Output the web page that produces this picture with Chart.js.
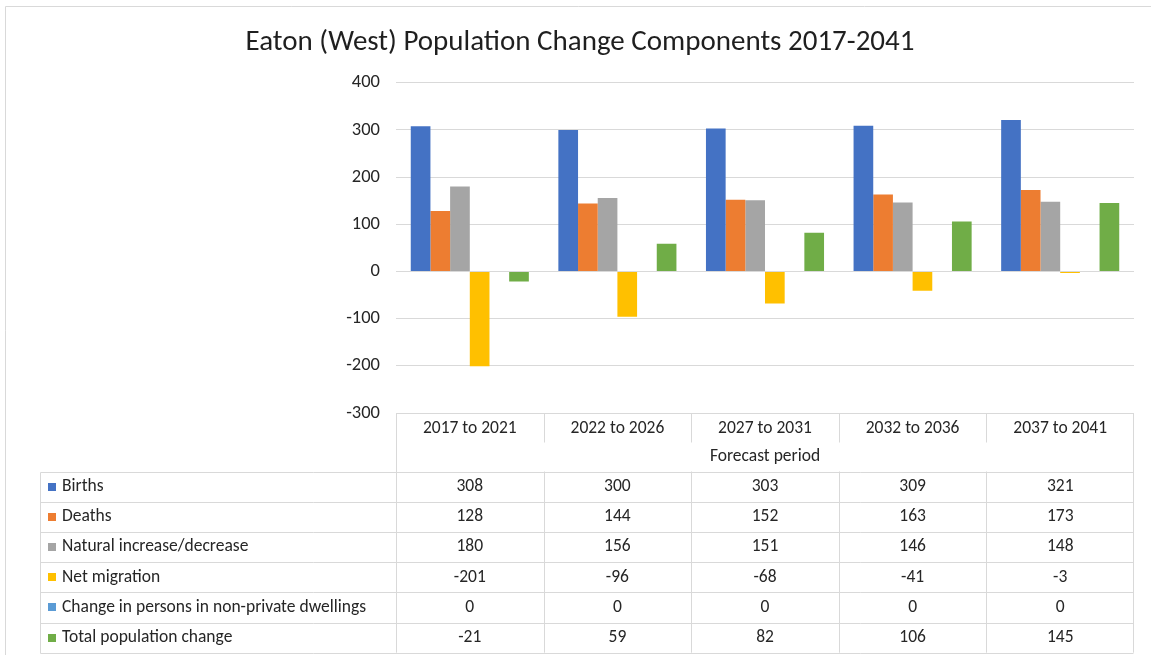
<!DOCTYPE html>
<html>
<head>
<meta charset="utf-8">
<title>Eaton (West) Population Change Components 2017-2041</title>
<script src="https://cdn.jsdelivr.net/npm/chart.js@4.4.1/dist/chart.umd.min.js"></script>
<style>
  html, body { margin: 0; padding: 0; background: #ffffff; }
  #wrap { position: relative; width: 1151px; height: 655px; }
</style>
</head>
<body>
<div id="wrap"><canvas id="chart" width="1151" height="655"></canvas></div>
<script>
// Forecast periods (categories)
const periods = ['2017 to 2021', '2022 to 2026', '2027 to 2031', '2032 to 2036', '2037 to 2041'];

// Components of population change per period
const births        = [308, 300, 303, 309, 321];
const deaths        = [128, 144, 152, 163, 173];
const naturalChange = [180, 156, 151, 146, 148];
const netMigration  = [-201, -96, -68, -41, -3];
const nonPrivate    = [0, 0, 0, 0, 0];
const totalChange   = [-21, 59, 82, 106, 145];

const seriesNames = ['Births', 'Deaths', 'Natural increase/decrease', 'Net migration',
                     'Change in persons in non-private dwellings', 'Total population change'];
const seriesValues = [births, deaths, naturalChange, netMigration, nonPrivate, totalChange];
const seriesColors = ['#4472C4', '#ED7D31', '#A5A5A5', '#FFC000', '#5B9BD5', '#70AD47'];

// Value axis ticks
const yMin = -300, yMax = 400, yStep = 100;

const FONT = 'Carlito, Calibri, Lato, "Open Sans", sans-serif';
const GRID = '#d9d9d9';
const TEXT = '#262626';

// Draws the frame line and the data table under the plot (header, axis title, legend rows)
const dataTablePlugin = {
  id: 'dataTable',
  beforeDraw(chart) {
    const ctx = chart.ctx;
    ctx.save();
    ctx.strokeStyle = GRID;
    ctx.lineWidth = 1;
    ctx.beginPath();
    ctx.moveTo(5.5, 655); ctx.lineTo(5.5, 6.5); ctx.lineTo(1151, 6.5);
    ctx.stroke();
    ctx.restore();
  },
  afterDraw(chart) {
    const ctx = chart.ctx;
    const area = chart.chartArea;
    const xs = chart.scales.x;
    const n = periods.length;
    const colW = (area.right - area.left) / n;
    const top = Math.round(area.bottom) + 0.5;
    const headerBottom = top + 29;
    const rowsTop = top + 58;
    const rowH = 30.2;
    const tableLeft = 40.5;
    const right = Math.round(area.right) - 0.5;
    const left = Math.round(area.left) + 0.5;
    const bottom = rowsTop + rowH * seriesNames.length;

    ctx.save();
    ctx.strokeStyle = GRID;
    ctx.lineWidth = 1;
    ctx.beginPath();
    // header box
    ctx.moveTo(left, top); ctx.lineTo(right, top);
    ctx.moveTo(left, top); ctx.lineTo(left, bottom);
    ctx.moveTo(right, top); ctx.lineTo(right, bottom);
    for (let i = 1; i < n; i++) {
      const bx = Math.round(area.left + colW * i) + 0.5;
      ctx.moveTo(bx, top); ctx.lineTo(bx, headerBottom);
      ctx.moveTo(bx, rowsTop); ctx.lineTo(bx, bottom);
    }
    // legend rows
    for (let r = 0; r <= seriesNames.length; r++) {
      const ry = Math.round(rowsTop + rowH * r) + 0.5;
      ctx.moveTo(tableLeft, ry); ctx.lineTo(right, ry);
    }
    ctx.moveTo(tableLeft, Math.round(rowsTop) + 0.5); ctx.lineTo(tableLeft, Math.round(bottom) + 0.5);
    ctx.stroke();

    ctx.fillStyle = TEXT;
    ctx.font = '17.5px ' + FONT;
    ctx.textAlign = 'center';
    ctx.textBaseline = 'middle';
    periods.forEach((p, i) => {
      ctx.fillText(p, xs.getPixelForValue(i), top + 15);
    });
    ctx.fillText('Forecast period', (area.left + area.right) / 2, top + 43);

    seriesNames.forEach((name, r) => {
      const cy = rowsTop + rowH * (r + 0.5);
      ctx.fillStyle = seriesColors[r];
      ctx.fillRect(48, Math.round(cy) - 4, 8, 8);
      ctx.fillStyle = TEXT;
      ctx.textAlign = 'left';
      ctx.fillText(name, 62, cy);
      ctx.textAlign = 'center';
      seriesValues[r].forEach((v, i) => {
        ctx.fillText(String(v), xs.getPixelForValue(i), cy);
      });
    });
    ctx.restore();
  }
};

new Chart(document.getElementById('chart'), {
  type: 'bar',
  data: {
    labels: periods,
    datasets: seriesNames.map((name, k) => ({
      label: name,
      data: seriesValues[k],
      backgroundColor: seriesColors[k],
      borderWidth: 0,
      categoryPercentage: 0.8,
      barPercentage: 1.0
    }))
  },
  options: {
    responsive: false,
    animation: false,
    layout: { padding: { left: 26, right: 17, top: 0, bottom: 242 } },
    plugins: {
      legend: { display: false },
      tooltip: { enabled: false },
      title: {
        display: true,
        text: 'Eaton (West) Population Change Components 2017-2041',
        color: '#1f1f1f',
        font: { family: FONT, size: 29, weight: 'normal', lineHeight: 1.2 },
        padding: { top: 25, bottom: 23 }
      }
    },
    scales: {
      x: { display: false },
      y: {
        min: yMin,
        max: yMax,
        ticks: {
          stepSize: yStep,
          color: TEXT,
          padding: 16,
          font: { family: FONT, size: 18.5 }
        },
        grid: { color: GRID, drawTicks: false },
        border: { display: false },
        afterFit(scale) { scale.width = 370; }
      }
    }
  },
  plugins: [dataTablePlugin]
});
</script>
</body>
</html>
